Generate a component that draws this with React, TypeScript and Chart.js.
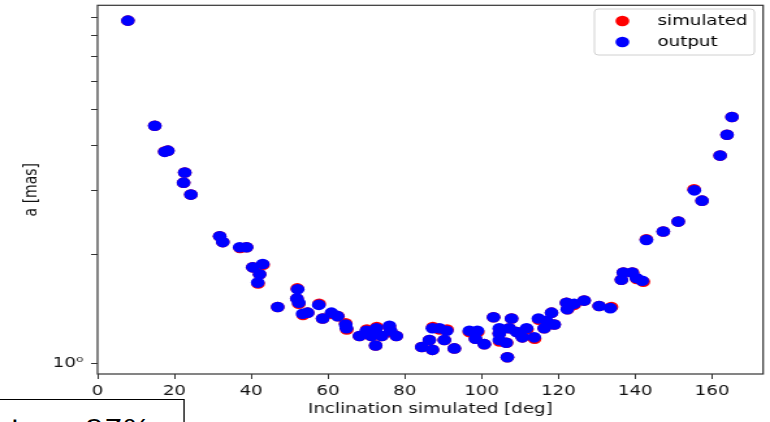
import React, { useEffect, useRef } from 'react';
import { Chart, registerables } from 'chart.js';

Chart.register(...registerables);

// ---- data ----
const inclinationOutput = [
  7.9, 14.9, 17.5, 18.3, 22.7, 22.4, 24.3, 31.8, 32.6, 37.0, 38.8, 40.4, 43.0, 42.2, 41.7,
  46.9, 52.1, 51.9, 52.4, 53.4, 54.7, 57.6, 58.6, 60.9, 62.5, 64.6, 64.8, 68.2, 70.0, 71.3,
  72.6, 72.4, 74.0, 76.0, 76.3, 77.8, 84.4, 86.4, 87.2, 87.2, 89.0, 90.3, 90.9, 92.9, 96.8,
  98.4, 98.9, 100.7, 103.1, 104.6, 104.6, 104.6, 106.4, 106.7, 107.2, 107.8, 109.1, 110.6, 111.7, 113.7,
  114.8, 116.3, 116.9, 118.2, 118.9, 122.1, 122.3, 124.1, 126.7, 130.6, 133.5, 136.4, 136.9, 139.2, 140.3,
  141.8, 142.9, 147.3, 151.2, 155.4, 157.4, 162.1, 163.9, 165.2,
];
const aOutput = [
  8.81, 4.52, 3.83, 3.86, 3.36, 3.15, 2.92, 2.24, 2.16, 2.09, 2.09, 1.84, 1.88, 1.76, 1.67,
  1.43, 1.60, 1.51, 1.47, 1.37, 1.38, 1.45, 1.33, 1.38, 1.35, 1.28, 1.25, 1.19, 1.23, 1.19,
  1.25, 1.12, 1.19, 1.27, 1.23, 1.19, 1.11, 1.16, 1.25, 1.09, 1.25, 1.16, 1.23, 1.10, 1.23,
  1.17, 1.23, 1.13, 1.34, 1.25, 1.21, 1.16, 1.14, 1.04, 1.25, 1.33, 1.22, 1.18, 1.25, 1.18,
  1.33, 1.25, 1.31, 1.38, 1.28, 1.47, 1.41, 1.46, 1.49, 1.44, 1.42, 1.70, 1.78, 1.78, 1.72,
  1.69, 2.19, 2.31, 2.46, 3.00, 2.81, 3.74, 4.27, 4.78,
];
const inclinationSimulated = [
  7.9, 14.9, 17.5, 18.3, 22.7, 22.4, 24.3, 31.8, 32.6, 37.1, 38.8, 40.4, 43.1, 42.2, 41.8,
  46.9, 52.0, 51.9, 52.4, 53.5, 54.7, 57.7, 58.6, 60.9, 62.6, 64.6, 64.9, 68.2, 70.1, 71.3,
  72.7, 72.4, 74.0, 76.0, 76.4, 77.8, 84.4, 86.4, 87.3, 87.2, 89.1, 90.3, 91.0, 92.9, 96.8,
  98.4, 99.0, 100.7, 103.1, 104.7, 104.6, 104.7, 106.5, 106.7, 107.2, 107.8, 109.2, 110.6, 111.8, 113.8,
  114.9, 116.3, 117.0, 118.2, 118.9, 122.1, 122.4, 124.1, 126.7, 130.6, 133.8, 136.4, 136.9, 139.3, 140.4,
  142.1, 142.9, 147.3, 151.2, 155.3, 157.4, 162.1, 163.9, 165.2,
];
const aSimulated = [
  8.81, 4.52, 3.84, 3.86, 3.36, 3.15, 2.92, 2.24, 2.16, 2.08, 2.09, 1.84, 1.87, 1.76, 1.66,
  1.43, 1.61, 1.51, 1.46, 1.36, 1.38, 1.46, 1.33, 1.37, 1.35, 1.29, 1.24, 1.19, 1.24, 1.19,
  1.26, 1.12, 1.19, 1.26, 1.22, 1.19, 1.11, 1.16, 1.26, 1.09, 1.24, 1.16, 1.24, 1.10, 1.22,
  1.17, 1.22, 1.13, 1.34, 1.24, 1.21, 1.15, 1.14, 1.04, 1.25, 1.33, 1.22, 1.18, 1.24, 1.17,
  1.32, 1.25, 1.30, 1.38, 1.28, 1.47, 1.41, 1.45, 1.49, 1.44, 1.43, 1.70, 1.78, 1.78, 1.71,
  1.68, 2.20, 2.31, 2.46, 3.02, 2.81, 3.74, 4.27, 4.78,
];
const xTickValues = [0, 20, 40, 60, 80, 100, 120, 140, 160];
const yTickValues = [1, 2, 3, 4, 5, 6, 7, 8, 9];
const yTickLabels = ['10⁰', '', '', '', '', '', '', '', ''];
const legendLabels = ['simulated', 'output'];
const boxText = 'Success rate = 97%';

const FONT = 'DejaVu Sans';
const RED = '#ff0000';
const BLUE = '#0000ff';

const framePlugin = {
  id: 'frameAndLegend',
  afterDatasetsDraw(chart: any) {
    const { ctx, chartArea: a } = chart;
    ctx.save();
    ctx.strokeStyle = '#333333';
    ctx.lineWidth = 1.2;
    ctx.strokeRect(a.left, a.top, a.right - a.left, a.bottom - a.top);
    ctx.restore();
  },
  afterDraw(chart: any) {
    const { ctx } = chart;
    ctx.save();
    const bx = 457, by = 9, bw = 123, bh = 46;
    ctx.beginPath();
    if ((ctx as any).roundRect) (ctx as any).roundRect(bx, by, bw, bh, 3);
    else ctx.rect(bx, by, bw, bh);
    ctx.fillStyle = 'rgba(255,255,255,0.8)';
    ctx.fill();
    ctx.strokeStyle = '#d0d0d0';
    ctx.lineWidth = 1;
    ctx.stroke();
    const colors = [RED, BLUE];
    const rows = [21, 42];
    legendLabels.forEach((label, i) => {
      ctx.beginPath();
      ctx.arc(478.5, rows[i], 5.3, 0, Math.PI * 2);
      ctx.fillStyle = colors[i];
      ctx.fill();
      ctx.fillStyle = '#000';
      ctx.font = `14px "${FONT}"`;
      ctx.textBaseline = 'middle';
      ctx.textAlign = 'left';
      ctx.fillText(label, 505.5, rows[i]);
    });
    ctx.restore();
  },
};

export default function App() {
  const ref = useRef<HTMLCanvasElement | null>(null);

  useEffect(() => {
    document.body.style.margin = '0';
    const canvas = ref.current;
    if (!canvas) return;
    const outputData = inclinationOutput.map((x, i) => ({ x, y: aOutput[i] }));
    const simData = inclinationSimulated.map((x, i) => ({ x, y: aSimulated[i] }));
    const chart = new Chart(canvas, {
      type: 'scatter',
      data: {
        datasets: [
          {
            label: 'output',
            data: outputData,
            backgroundColor: BLUE,
            borderColor: BLUE,
            borderWidth: 0,
            pointRadius: 5.3,
            pointHoverRadius: 5.3,
          },
          {
            label: 'simulated',
            data: simData,
            backgroundColor: RED,
            borderColor: RED,
            borderWidth: 0,
            pointRadius: 5.3,
            pointHoverRadius: 5.3,
          },
        ],
      },
      options: {
        animation: false,
        responsive: false,
        devicePixelRatio: 1,
        events: [],
        layout: { padding: { top: 3, right: 4, bottom: 0, left: 0 } },
        plugins: { legend: { display: false }, tooltip: { enabled: false } },
        scales: {
          x: {
            type: 'linear',
            position: 'bottom',
            min: 0,
            max: 173.3,
            afterBuildTicks: (s: any) => {
              s.ticks = xTickValues.map((v) => ({ value: v }));
            },
            afterFit: (s: any) => {
              s.height = 48;
              s.paddingLeft = 0;
              s.paddingRight = 0;
            },
            grid: { display: true, drawOnChartArea: false, drawTicks: true, tickLength: 5, color: '#333333', lineWidth: 1 },
            border: { display: false },
            ticks: {
              autoSkip: false,
              maxRotation: 0,
              padding: 4,
              color: '#111',
              font: { family: FONT, size: 14 },
              callback: (v: any) => String(v),
            },
            title: {
              display: true,
              text: 'Inclination simulated [deg]',
              color: '#111',
              font: { family: FONT, size: 14 },
              padding: { top: 0, bottom: 4.6 },
            },
          },
          y: {
            type: 'logarithmic',
            min: 0.935,
            max: 9.71,
            afterBuildTicks: (s: any) => {
              s.ticks = yTickValues.map((v) => ({ value: v }));
            },
            afterFit: (s: any) => {
              s.width = 75;
              s.paddingTop = 0;
              s.paddingBottom = 0;
            },
            grid: { display: true, drawOnChartArea: false, drawTicks: true, tickLength: 5, color: '#333333', lineWidth: 1 },
            border: { display: false },
            ticks: {
              autoSkip: false,
              padding: 6,
              color: '#111',
              font: { family: FONT, size: 14 },
              callback: (_v: any, i: number) => yTickLabels[i],
            },
            title: {
              display: true,
              text: 'a [mas]',
              color: '#111',
              font: { family: FONT, size: 14 },
              padding: { top: 15.8, bottom: 0 },
            },
          },
        },
      },
      plugins: [framePlugin],
    } as any);
    return () => chart.destroy();
  }, []);

  return (
    <div style={{ position: 'fixed', left: 0, top: 0, width: 770, height: 422, overflow: 'hidden', background: '#fff' }}>
      <div
        style={{
          position: 'absolute',
          left: 0,
          top: 0,
          width: 592,
          height: 422,
          transform: 'scaleX(1.3007)',
          transformOrigin: '0 0',
        }}
      >
        <canvas ref={ref} width={592} height={422} style={{ display: 'block', width: '592px', height: '422px' }} />
        <div
          style={{
            position: 'absolute',
            right: 450.5,
            top: 399,
            border: '1px solid #000',
            padding: '15px 24px 10px 10px',
            fontFamily: FONT,
            fontSize: 23,
            lineHeight: '27.6px',
            whiteSpace: 'nowrap',
            color: '#000',
            background: '#fff',
          }}
        >
          {boxText}
        </div>
      </div>
    </div>
  );
}
